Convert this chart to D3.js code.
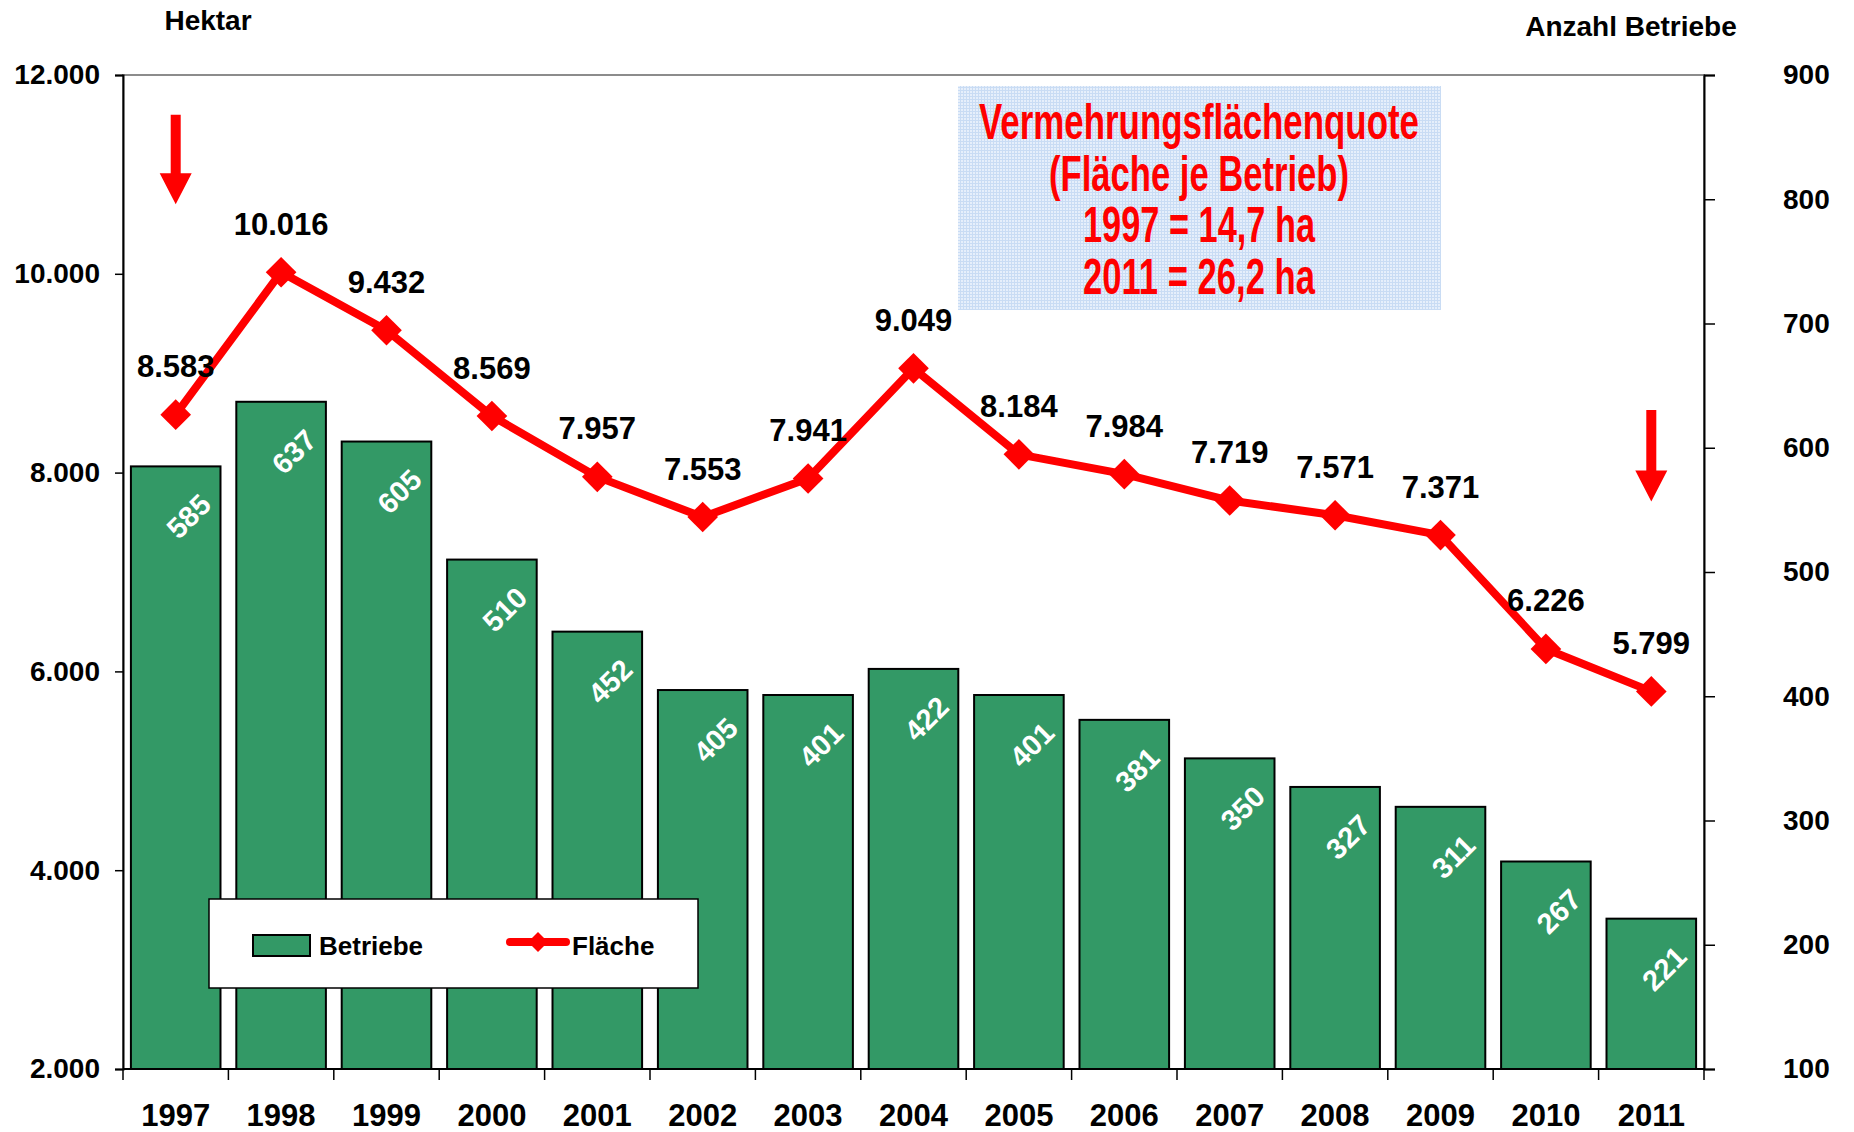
<!DOCTYPE html>
<html>
<head>
<meta charset="utf-8">
<script src="https://cdn.jsdelivr.net/npm/d3@7"></script>
<style>
	body { margin:0; background:#fff; }
	svg text { font-family:"Liberation Sans", Arial, sans-serif; font-weight:bold; }
</style>
</head>
<body>
<svg id="chart" width="1854" height="1132"></svg>
<script>

var years = ["1997","1998","1999","2000","2001","2002","2003","2004","2005","2006","2007","2008","2009","2010","2011"];
var betriebe = [585, 637, 605, 510, 452, 405, 401, 422, 401, 381, 350, 327, 311, 267, 221];
var flaeche = [8583, 10016, 9432, 8569, 7957, 7553, 7941, 9049, 8184, 7984, 7719, 7571, 7371, 6226, 5799];
var leftTicks = [2000, 4000, 6000, 8000, 10000, 12000];
var rightTicks = [100, 200, 300, 400, 500, 600, 700, 800, 900];
var quoteLines = ["Vermehrungsflächenquote", "(Fläche je Betrieb)", "1997 = 14,7 ha", "2011 = 26,2 ha"];
var quoteWidths = [440, 300, 232, 232];
// arrows: year + start/end in Hektar units
var arrows = [{year:"1997", from:11600, to:10700}, {year:"2011", from:8630, to:7710}];

var green = "#339966", red = "#ff0000";

var de = d3.formatLocale({decimal:",", thousands:".", grouping:[3], currency:["","€"]});
var fmt = de.format(",");

var margin = {top:75, right:150, bottom:63, left:123};
var width = 1854 - margin.left - margin.right,
	height = 1132 - margin.top - margin.bottom;

var svg = d3.select("#chart");
var g = svg.append("g").attr("transform", "translate(" + margin.left + "," + margin.top + ")");

var x = d3.scaleBand().domain(years).range([0, width]).paddingInner(0.15).paddingOuter(0.075);
var yLeft = d3.scaleLinear().domain([2000, 12000]).range([height, 0]);
var yRight = d3.scaleLinear().domain([100, 900]).range([height, 0]);

function cx(d){ return x(d) + x.bandwidth() / 2; }

// plot area frame (top edge grey)
g.append("rect")
	.attr("width", width).attr("height", height)
	.attr("fill", "none").attr("stroke", "#8c8c8c").attr("stroke-width", 2);

// bars
g.selectAll("rect.bar")
	.data(years)
	.enter()
	.append("rect")
	.attr("class", "bar")
	.attr("x", function(d){ return x(d); })
	.attr("width", x.bandwidth())
	.attr("y", function(d, i){ return yRight(betriebe[i]); })
	.attr("height", function(d, i){ return height - yRight(betriebe[i]); })
	.attr("fill", green)
	.attr("stroke", "#000")
	.attr("stroke-width", 2);

// bar labels, rotated
g.selectAll("text.barlbl")
	.data(years)
	.enter()
	.append("text")
	.attr("class", "barlbl")
	.attr("transform", function(d, i){
		return "translate(" + (cx(d) + 13) + "," + (yRight(betriebe[i]) + 50) + ") rotate(-45)";
	})
	.attr("text-anchor", "middle")
	.attr("dominant-baseline", "central")
	.attr("fill", "#fff")
	.style("font-size", "29px")
	.text(function(d, i){ return betriebe[i]; });

// axes
var axL = g.append("g")
	.call(d3.axisLeft(yLeft).tickValues(leftTicks).tickSize(8).tickPadding(15).tickFormat(fmt));
var axR = g.append("g")
	.attr("transform", "translate(" + width + ",0)")
	.call(d3.axisRight(yRight).tickValues(rightTicks).tickSize(11).tickPadding(68));
[axL, axR].forEach(function(a){
	a.select(".domain").attr("stroke", "#000").attr("stroke-width", 2);
	a.selectAll(".tick line").attr("stroke", "#000").attr("stroke-width", 1.5);
	a.selectAll(".tick text").attr("fill", "#000").style("font-size", "28px")
		.style("font-family", "Liberation Sans, Arial, sans-serif").style("font-weight", "bold");
});

// x axis: ticks at category boundaries
g.append("line")
	.attr("x1", 0).attr("x2", width).attr("y1", height).attr("y2", height)
	.attr("stroke", "#000").attr("stroke-width", 2);
g.selectAll("line.xtick")
	.data(d3.range(years.length + 1))
	.enter()
	.append("line")
	.attr("class", "xtick")
	.attr("x1", function(i){ return i * x.step(); })
	.attr("x2", function(i){ return i * x.step(); })
	.attr("y1", height).attr("y2", height + 11)
	.attr("stroke", "#000").attr("stroke-width", 1.5);

g.selectAll("text.year")
	.data(years)
	.enter()
	.append("text")
	.attr("class", "year")
	.attr("x", cx)
	.attr("y", height + 46)
	.attr("text-anchor", "middle")
	.attr("dominant-baseline", "central")
	.style("font-size", "31px")
	.text(function(d){ return d; });

// axis titles
svg.append("text").attr("x", 208).attr("y", 20)
	.attr("text-anchor", "middle").attr("dominant-baseline", "central")
	.style("font-size", "28px").text("Hektar");
svg.append("text").attr("x", 1631).attr("y", 26)
	.attr("text-anchor", "middle").attr("dominant-baseline", "central")
	.style("font-size", "28px").text("Anzahl Betriebe");

// Fläche line
var line = d3.line()
	.x(function(d, i){ return cx(years[i]); })
	.y(function(d){ return yLeft(d); });

g.append("path")
	.datum(flaeche)
	.attr("d", line)
	.attr("fill", "none")
	.attr("stroke", red)
	.attr("stroke-width", 8)
	.attr("stroke-linejoin", "round");

var diamond = d3.symbol().type(d3.symbolSquare).size(470);
g.selectAll("path.marker")
	.data(flaeche)
	.enter()
	.append("path")
	.attr("class", "marker")
	.attr("d", diamond)
	.attr("transform", function(d, i){
		return "translate(" + cx(years[i]) + "," + yLeft(d) + ") rotate(45)";
	})
	.attr("fill", red);

g.selectAll("text.flbl")
	.data(flaeche)
	.enter()
	.append("text")
	.attr("class", "flbl")
	.attr("x", function(d, i){ return cx(years[i]); })
	.attr("y", function(d){ return yLeft(d) - 48; })
	.attr("text-anchor", "middle")
	.attr("dominant-baseline", "central")
	.style("font-size", "31px")
	.text(fmt);

// red arrows
arrows.forEach(function(a){
	var ax = cx(a.year), y0 = yLeft(a.from), y1 = yLeft(a.to);
	var headH = 31;
	g.append("path")
		.attr("d", "M" + (ax - 5) + "," + y0 + "H" + (ax + 5) + "V" + (y1 - headH) +
			"H" + (ax + 16) + "L" + ax + "," + y1 + "L" + (ax - 16) + "," + (y1 - headH) +
			"H" + (ax - 5) + "Z")
		.attr("fill", red);
});

// legend
var leg = svg.append("g");
leg.append("rect").attr("x", 209).attr("y", 899).attr("width", 489).attr("height", 89)
	.attr("fill", "#fff").attr("stroke", "#000").attr("stroke-width", 1.5);
leg.append("rect").attr("x", 253).attr("y", 935).attr("width", 57).attr("height", 21)
	.attr("fill", green).attr("stroke", "#000").attr("stroke-width", 2);
leg.append("text").attr("x", 319).attr("y", 946).attr("dominant-baseline", "central")
	.style("font-size", "26px").text("Betriebe");
leg.append("line").attr("x1", 510).attr("x2", 566).attr("y1", 942).attr("y2", 942)
	.attr("stroke", red).attr("stroke-width", 8).attr("stroke-linecap", "round");
leg.append("path").attr("d", d3.symbol().type(d3.symbolSquare).size(200))
	.attr("transform", "translate(538,942) rotate(45)").attr("fill", red);
leg.append("text").attr("x", 572).attr("y", 946).attr("dominant-baseline", "central")
	.style("font-size", "26px").text("Fläche");

// annotation box with light blue grid
var defs = svg.append("defs");
var pat = defs.append("pattern").attr("id", "bluegrid")
	.attr("patternUnits", "userSpaceOnUse").attr("width", 3).attr("height", 3);
pat.append("rect").attr("width", 3).attr("height", 3).attr("fill", "#e6effb");
pat.append("rect").attr("width", 3).attr("height", 1).attr("fill", "#c9dcf4");
pat.append("rect").attr("width", 1).attr("height", 3).attr("fill", "#c9dcf4");

svg.append("rect").attr("x", 958).attr("y", 86).attr("width", 483).attr("height", 224)
	.attr("fill", "url(#bluegrid)");

svg.selectAll("text.quote")
	.data(quoteLines)
	.enter()
	.append("text")
	.attr("class", "quote")
	.attr("x", 1199)
	.attr("y", function(d, i){ return 139 + i * 51.5; })
	.attr("text-anchor", "middle")
	.attr("textLength", function(d, i){ return quoteWidths[i]; })
	.attr("lengthAdjust", "spacingAndGlyphs")
	.attr("fill", red)
	.style("font-size", "50px")
	.text(function(d){ return d; });

</script>
</body>
</html>
